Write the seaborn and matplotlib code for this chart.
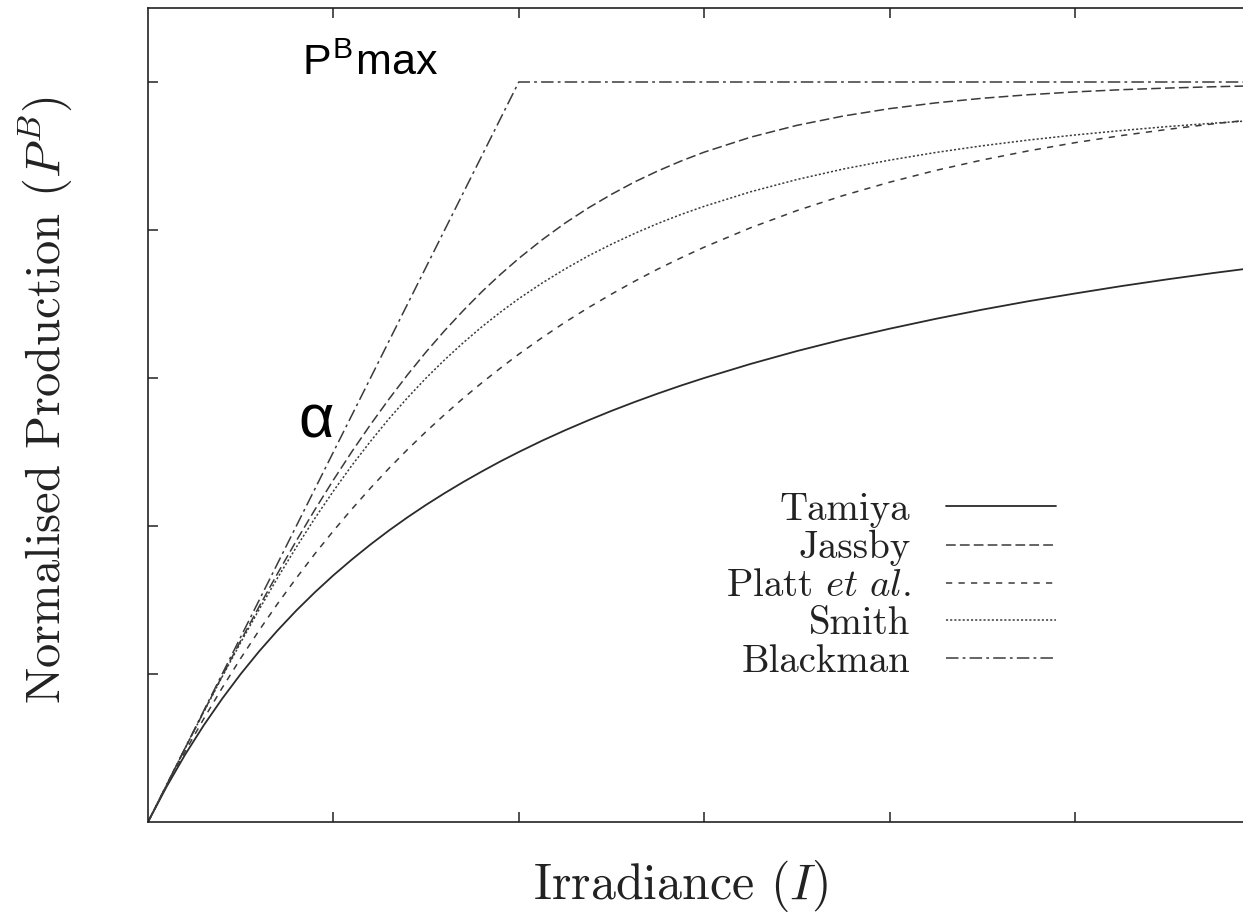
import matplotlib
matplotlib.use("Agg")
import matplotlib.pyplot as plt
import seaborn as sns

# Irradiance sample points (data units; ticks unlabelled)
irradiance = [0, 0.1, 0.2, 0.3, 0.4, 0.5, 0.6, 0.7, 0.8, 0.9, 1.0, 1.1, 1.2, 1.3,
              1.4, 1.5, 1.6, 1.7, 1.8, 1.9, 2.0, 2.125, 2.25, 2.375, 2.5, 2.625,
              2.75, 2.875, 3.0, 3.25, 3.5, 3.75, 4.0, 4.25, 4.5, 4.75, 5.0, 5.25,
              5.5, 5.75, 6.0]
tamiya = [0, 0.238, 0.455, 0.652, 0.833, 1.000, 1.154, 1.296, 1.429, 1.552, 1.667,
          1.774, 1.875, 1.970, 2.059, 2.143, 2.222, 2.297, 2.368, 2.436, 2.500,
          2.576, 2.647, 2.714, 2.778, 2.838, 2.895, 2.949, 3.000, 3.095, 3.182,
          3.261, 3.333, 3.400, 3.462, 3.519, 3.571, 3.621, 3.667, 3.710, 3.750]
jassby = [0, 0.250, 0.498, 0.744, 0.987, 1.225, 1.457, 1.682, 1.900, 2.110, 2.311,
          2.503, 2.685, 2.858, 3.022, 3.176, 3.320, 3.455, 3.582, 3.699, 3.808,
          3.933, 4.047, 4.149, 4.241, 4.325, 4.399, 4.466, 4.526, 4.627, 4.707,
          4.770, 4.820, 4.859, 4.890, 4.914, 4.933, 4.948, 4.959, 4.968, 4.975]
platt = [0, 0.244, 0.476, 0.696, 0.906, 1.106, 1.296, 1.477, 1.648, 1.812, 1.967,
         2.115, 2.256, 2.390, 2.517, 2.638, 2.753, 2.863, 2.967, 3.066, 3.161,
         3.272, 3.377, 3.475, 3.567, 3.654, 3.736, 3.812, 3.884, 4.015, 4.131,
         4.233, 4.323, 4.403, 4.473, 4.535, 4.590, 4.638, 4.680, 4.718, 4.751]
smith = [0, 0.250, 0.498, 0.742, 0.981, 1.213, 1.437, 1.652, 1.857, 2.052, 2.236,
         2.410, 2.572, 2.725, 2.867, 3.000, 3.123, 3.238, 3.345, 3.444, 3.536,
         3.641, 3.737, 3.825, 3.904, 3.977, 4.044, 4.105, 4.160, 4.258, 4.341,
         4.412, 4.472, 4.524, 4.569, 4.608, 4.642, 4.672, 4.699, 4.722, 4.743]
blackman_x = [0, 2.0, 6.0]
blackman_y = [0, 5.0, 5.0]

x_ticks = [1, 2, 3, 4, 5]
y_ticks = [1, 2, 3, 4, 5]

sns.set_theme(style="ticks")
plt.rcParams["font.family"] = ["cmr10", "DejaVu Serif"]
plt.rcParams["mathtext.fontset"] = "cm"
plt.rcParams["axes.formatter.use_mathtext"] = True
plt.rcParams["lines.scale_dashes"] = False

W, H = 1243, 916
fig = plt.figure(figsize=(W / 100, H / 100), dpi=100)
left, right, top, bottom = 148, 1260.4, 8, 822
ax = fig.add_axes([left / W, (H - bottom) / H, (right - left) / W, (bottom - top) / H])

lc = "#3a3a3a"
lw = 1.1
sns.lineplot(x=irradiance, y=tamiya, ax=ax, color="#2a2a2a", lw=1.3,
             linestyle="-", label="Tamiya")
sns.lineplot(x=irradiance, y=jassby, ax=ax, color=lc, lw=lw,
             linestyle=(0, (7, 3)), label="Jassby")
sns.lineplot(x=irradiance, y=platt, ax=ax, color=lc, lw=lw,
             linestyle=(0, (4.5, 4.5)), label=r"Platt $\mathit{et\ al.}$")
sns.lineplot(x=irradiance, y=smith, ax=ax, color=lc, lw=lw,
             linestyle=(0, (1.5, 1.5)), label="Smith")
sns.lineplot(x=blackman_x, y=blackman_y, ax=ax, color=lc, lw=lw,
             linestyle=(0, (9, 3, 2, 3)), label="Blackman")

ax.set_xlim(0, 6)
ax.set_ylim(0, 5.5)
ax.set_xticks(x_ticks)
ax.set_yticks(y_ticks)
ax.set_xticklabels([])
ax.set_yticklabels([])
ax.tick_params(direction="in", length=7.5, width=1.1, color="#222222",
               top=True, right=True, bottom=True, left=True)
for s in ax.spines.values():
    s.set_linewidth(1.2)
    s.set_color("#222222")

ax.set_xlabel(r"Irradiance $(I)$", fontsize=36, color="#222222")
ax.set_ylabel(r"Normalised Production $(P^B)$", fontsize=35, color="#222222")
ax.xaxis.set_label_coords((681 - left) / (right - left), (bottom - 858) / (bottom - top))
ax.yaxis.set_label_coords((74 - left) / (right - left), (bottom - 400) / (bottom - top))

leg = ax.legend(loc="center", bbox_to_anchor=((891 - left) / (right - left),
                                              (bottom - 586) / (bottom - top)),
                frameon=False, markerfirst=False, fontsize=28,
                handlelength=2.85, handletextpad=0.9, labelspacing=0.05)
for t in leg.get_texts():
    t.set_color("#222222")

ax.text(0.83, 5.05, r"P$^\mathregular{B}$max", fontsize=31, ha="left",
        va="baseline", family=["Liberation Sans", "DejaVu Sans"], color="black")
ax.text(0.81, 2.60, "α", fontsize=44, ha="left", va="baseline",
        family=["Liberation Sans", "DejaVu Sans"], color="black")

fig.savefig("out.png", dpi=100)
